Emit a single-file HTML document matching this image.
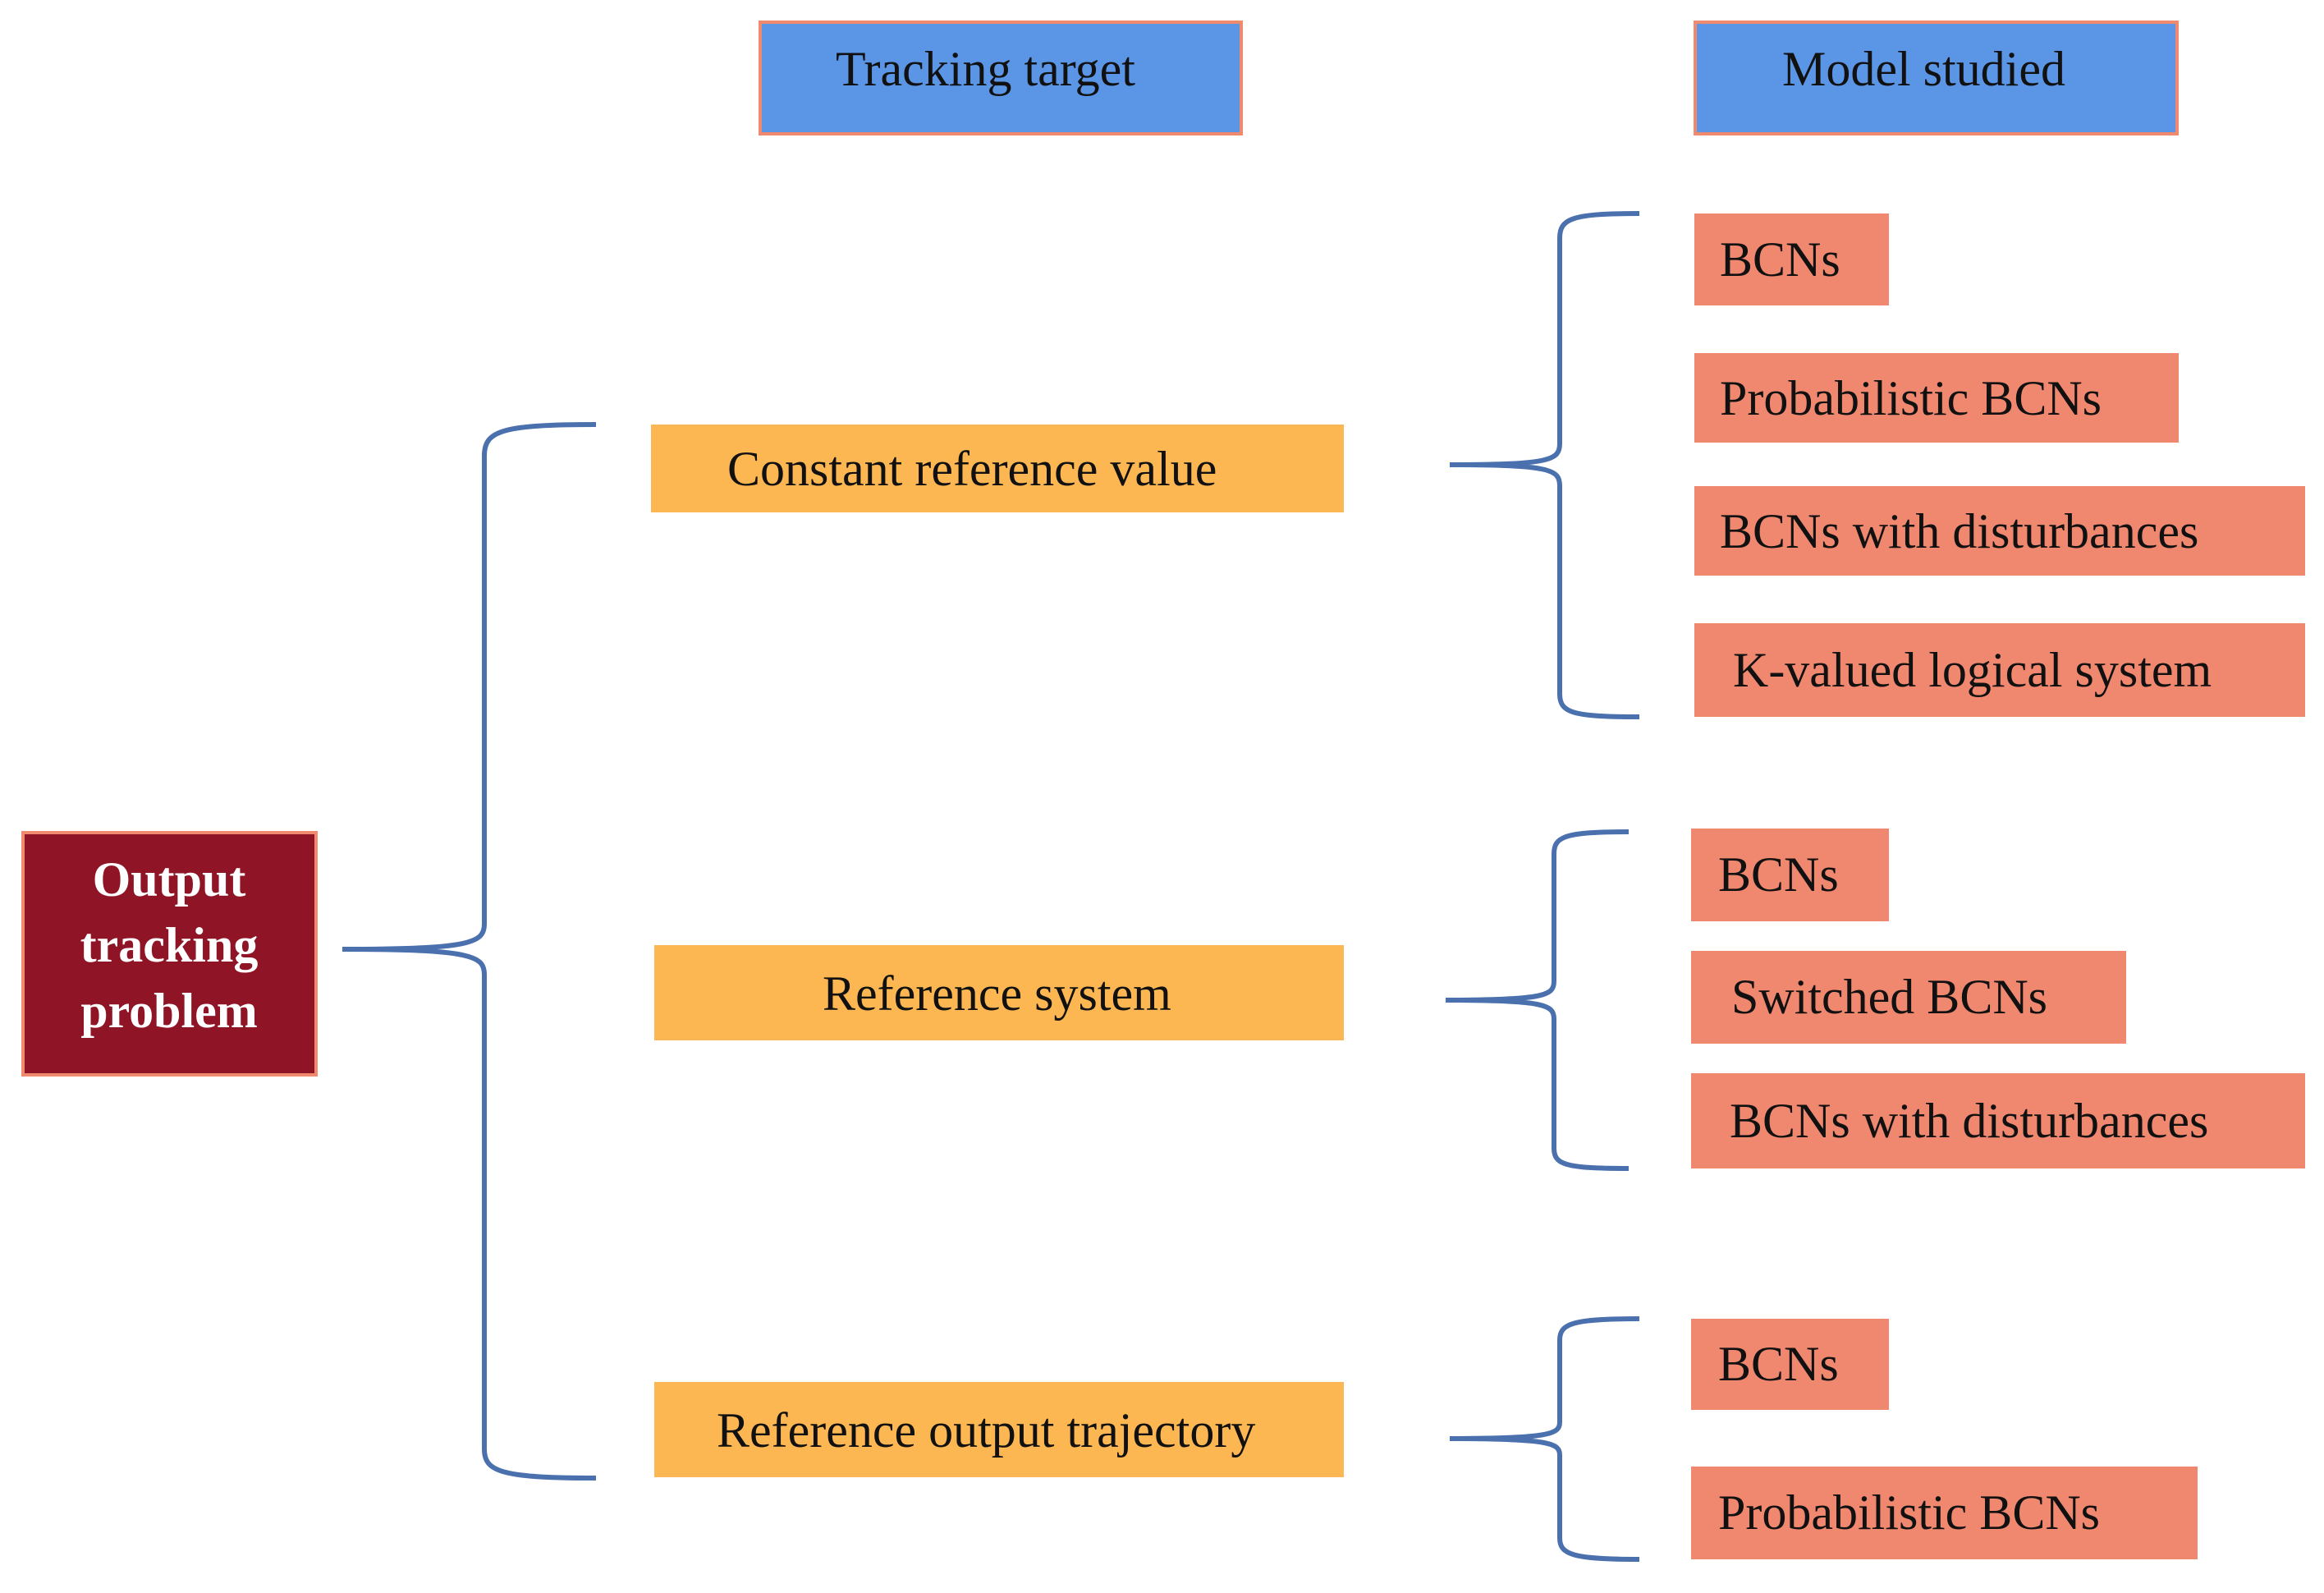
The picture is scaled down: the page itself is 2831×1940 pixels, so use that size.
<!DOCTYPE html>
<html><head><meta charset="utf-8"><style>
html,body{margin:0;padding:0;background:#fff;}
svg{display:block;}
text{font-family:"Liberation Serif",serif;font-size:60px;fill:#111;dominant-baseline:central;}
</style></head><body>
<svg width="2831" height="1940" viewBox="0 0 2831 1940" xmlns="http://www.w3.org/2000/svg">
<g stroke="#ef8a6f" stroke-width="4">
<rect x="926" y="27" width="586" height="136" fill="#5b95e5"/>
<rect x="2065" y="27" width="587" height="136" fill="#5b95e5"/>
<rect x="28" y="1014" width="357" height="295" fill="#8f1426"/>
</g>
<text x="1018" y="84">Tracking target</text>
<text x="2171" y="84">Model studied</text>
<g style="font-weight:bold;fill:#fff;font-size:62px" text-anchor="middle">
<text x="206" y="1071" style="fill:#fff">Output</text>
<text x="206" y="1151" style="fill:#fff">tracking</text>
<text x="206" y="1231" style="fill:#fff">problem</text>
</g>
<g fill="none" stroke="#4a70ae" stroke-width="6">
<path d="M726,517 C610,517 590,525 590,555 L590,1125 C590,1148 575,1156 417,1156 C575,1156 590,1164 590,1187 L590,1765 C590,1792 610,1800 726,1800"/>
<path d="M1997,260 C1915,260 1900,266 1900,290 L1900,540 C1900,560 1890,566 1766,566 C1890,566 1900,572 1900,592 L1900,845 C1900,868 1915,873 1997,873"/>
<path d="M1984,1013 C1905,1013 1893,1019 1893,1040 L1893,1195 C1893,1212 1883,1218 1761,1218 C1883,1218 1893,1224 1893,1241 L1893,1398 C1893,1418 1905,1423 1984,1423"/>
<path d="M1997,1606 C1915,1606 1900,1612 1900,1632 L1900,1732 C1900,1746 1890,1752 1766,1752 C1890,1752 1900,1758 1900,1772 L1900,1873 C1900,1893 1915,1899 1997,1899"/>
</g>
<g fill="#fdb752">
<rect x="793" y="517" width="844" height="107"/>
<rect x="797" y="1151" width="840" height="116"/>
<rect x="797" y="1683" width="840" height="116"/>
</g>
<text x="886" y="571">Constant reference value</text>
<text x="1002" y="1210">Reference system</text>
<text x="873" y="1742">Reference output trajectory</text>
<g fill="#f08870">
<rect x="2064" y="260" width="237" height="112"/>
<rect x="2064" y="430" width="590" height="109"/>
<rect x="2064" y="592" width="744" height="109"/>
<rect x="2064" y="759" width="744" height="114"/>
<rect x="2060" y="1009" width="241" height="113"/>
<rect x="2060" y="1158" width="530" height="113"/>
<rect x="2060" y="1307" width="748" height="116"/>
<rect x="2060" y="1606" width="241" height="111"/>
<rect x="2060" y="1786" width="617" height="113"/>
</g>
<text x="2095" y="316">BCNs</text>
<text x="2095" y="485">Probabilistic BCNs</text>
<text x="2095" y="647">BCNs with disturbances</text>
<text x="2111" y="816">K-valued logical system</text>
<text x="2093" y="1065">BCNs</text>
<text x="2109" y="1214">Switched BCNs</text>
<text x="2107" y="1365">BCNs with disturbances</text>
<text x="2093" y="1661">BCNs</text>
<text x="2093" y="1842">Probabilistic BCNs</text>
</svg>
</body></html>
